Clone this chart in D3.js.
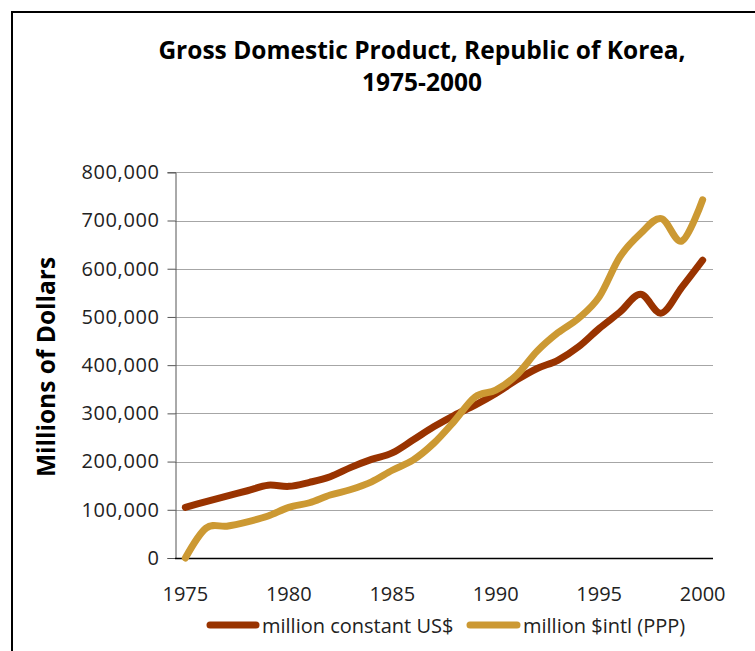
<!DOCTYPE html>
<html><head><meta charset="utf-8">
<script src="https://cdn.jsdelivr.net/npm/d3@7"></script>
<style>body{margin:0;background:#fff}svg{display:block}</style>
</head><body>
<script>
const years = d3.range(1975, 2001).map(String);
const constantUSD = [105000,117000,128500,139500,151000,148600,157000,168500,188000,204500,218000,244600,272000,296000,317000,341000,369000,393000,410000,438000,476000,510000,547000,508000,562000,617600];
const ppp = [0,62000,66000,75000,87000,105000,114600,130600,142000,158000,182000,203000,237700,284000,334000,348000,379000,429000,467000,497000,541600,624500,673000,704000,657600,743000];
const yTicks = [0,100000,200000,300000,400000,500000,600000,700000,800000];
const xLabels = ["1975","1980","1985","1990","1995","2000"];
const seriesNames = ["million constant US$","million $intl (PPP)"];
const colors = ["#993300","#CC9933"];

const W=755,H=651;
const svg=d3.select("body").append("svg").attr("width",W).attr("height",H);
svg.append("rect").attr("x",12).attr("y",12).attr("width",800).attr("height",700)
  .attr("fill","none").attr("stroke","#000").attr("stroke-width",2);

const pL=175,pR=713,pT=172.3,pB=558;
const x=d3.scaleBand().domain(years).range([pL,pR]).padding(0);
const y=d3.scaleLinear().domain([0,800000]).range([pB,pT]);
const cx=d=>x(d)+x.bandwidth()/2;
const font="'Open Sans', sans-serif";

// gridlines
svg.append("g").selectAll("line").data(yTicks.filter(v=>v>0)).join("line")
  .attr("x1",pL).attr("x2",pR).attr("y1",d=>Math.round(y(d))+0.5).attr("y2",d=>Math.round(y(d))+0.5)
  .attr("stroke","#a6a6a6").attr("stroke-width",1);

// y axis
const yAxis=d3.axisLeft(y).tickValues(yTicks).tickSize(8).tickPadding(8).tickFormat(d3.format(","));
const ga=svg.append("g").attr("transform",`translate(${pL+0.5},0)`).call(yAxis);
ga.select(".domain").attr("stroke","#555");
ga.selectAll(".tick line").attr("stroke","#555");
ga.selectAll("text").attr("font-family",font).attr("font-size",20).attr("letter-spacing",0.6).attr("fill","#222");

// x axis
const xAxis=d3.axisBottom(x).tickValues(xLabels).tickSize(0).tickPadding(28);
const gx=svg.append("g").attr("transform",`translate(0,${pB+0.5})`).call(xAxis);
gx.select(".domain").attr("stroke","#000").attr("stroke-width",1.5).attr("d",`M${pL},0H${pR}`);
gx.selectAll("text").attr("font-family",font).attr("font-size",20).attr("fill","#222");

// lines
const line=d3.line().x((d,i)=>cx(years[i])).y(d=>y(d)).curve(d3.curveCatmullRom.alpha(0));
[constantUSD,ppp].forEach((s,k)=>{
  svg.append("path").datum(s).attr("d",line).attr("fill","none")
    .attr("stroke",colors[k]).attr("stroke-width",7).attr("stroke-linecap","round").attr("stroke-linejoin","round");
});

// title
svg.append("text").attr("x",422).attr("y",59).attr("text-anchor","middle")
  .attr("font-family",font).attr("font-weight","bold").attr("font-size",24.5).attr("fill","#000")
  .text("Gross Domestic Product, Republic of Korea,");
svg.append("text").attr("x",422).attr("y",91).attr("text-anchor","middle")
  .attr("font-family",font).attr("font-weight","bold").attr("font-size",24.5).attr("fill","#000")
  .text("1975-2000");

// y title
svg.append("text").attr("transform",`translate(55,367) rotate(-90)`).attr("text-anchor","middle")
  .attr("font-family",font).attr("font-weight","bold").attr("font-size",24.5).attr("fill","#000")
  .text("Millions of Dollars");

// legend
const lg=[{x1:210,x2:256,tx:262},{x1:470,x2:517,tx:523}];
lg.forEach((p,k)=>{
  svg.append("line").attr("x1",p.x1).attr("x2",p.x2).attr("y1",625).attr("y2",625)
    .attr("stroke",colors[k]).attr("stroke-width",7).attr("stroke-linecap","round");
  svg.append("text").attr("x",p.tx).attr("y",633).attr("font-family",font).attr("font-size",20).attr("fill","#222")
    .text(seriesNames[k]);
});
</script>
</body></html>
